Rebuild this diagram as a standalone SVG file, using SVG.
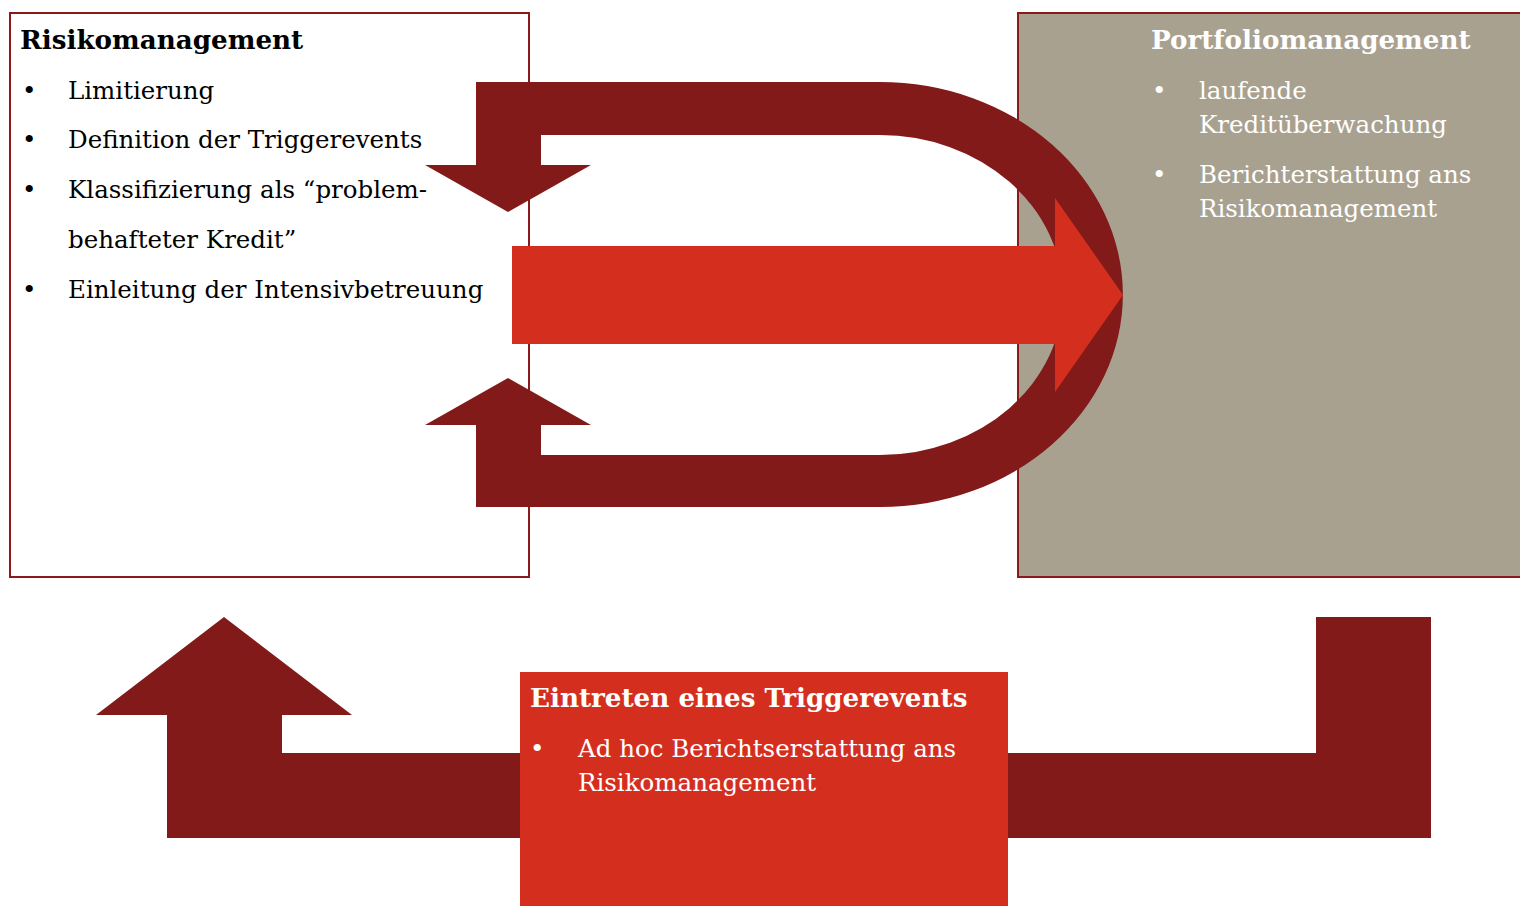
<svg xmlns="http://www.w3.org/2000/svg" width="1520" height="906" viewBox="0 0 1520 906">
<style>
.t{font-family:"DejaVu Serif","Liberation Serif",serif;font-size:24.5px}
.b{font-weight:bold;font-size:26.2px}
.k{fill:#000}
.w{fill:#fff}
.dark{fill:#831A1A}
.red{fill:#D42F1E}
</style>
<rect width="1520" height="906" fill="#fff"/>
<g id="risikomanagement">
<rect x="10" y="13" width="519" height="564" fill="#fff" stroke="#8B1A1A" stroke-width="2"/>
<text class="t b k" x="20" y="49">Risikomanagement</text>
<g class="t k">
<text x="22" y="99">•</text><text x="68" y="99">Limitierung</text>
<text x="22" y="148">•</text><text x="68" y="148">Definition der Triggerevents</text>
<text x="22" y="198">•</text><text x="68" y="198">Klassifizierung als “problem-</text>
<text x="68" y="248">behafteter Kredit”</text>
<text x="22" y="298">•</text><text x="68" y="298">Einleitung der Intensivbetreuung</text>
</g>
</g>
<g id="portfoliomanagement">
<rect x="1018" y="13" width="504" height="564" fill="#A9A190" stroke="#8B1A1A" stroke-width="2"/>
</g>
<g id="connectors">
<path class="dark" d="M476,82 H880 A243,212.5 0 0 1 880,507 H476 V425 H425 L508,378 L591,425 H541 V455 H880 A183,160 0 0 0 880,135 H541 V165 H591 L508,212 L425,165 H476 Z"/>
<path class="red" d="M512,246 H1055 V198 L1123,295 L1055,392 V344 H512 Z"/>
<path class="dark" d="M1316,617 H1431 V838 H167 V715 H96 L224,617 L352,715 H282 V753 H1316 Z"/>
</g>
<g id="portfolio-text" class="t w">
<text class="b" x="1151" y="49">Portfoliomanagement</text>
<text x="1152" y="99">•</text><text x="1199" y="99">laufende</text>
<text x="1199" y="133">Kreditüberwachung</text>
<text x="1152" y="183">•</text><text x="1199" y="183">Berichterstattung ans</text>
<text x="1199" y="217">Risikomanagement</text>
</g>
<g id="trigger">
<rect class="red" x="520" y="672" width="488" height="234"/>
<g class="t w">
<text class="b" x="530" y="707">Eintreten eines Triggerevents</text>
<text x="530" y="757">•</text><text x="578" y="757">Ad hoc Berichtserstattung ans</text>
<text x="578" y="791">Risikomanagement</text>
</g>
</g>
</svg>
